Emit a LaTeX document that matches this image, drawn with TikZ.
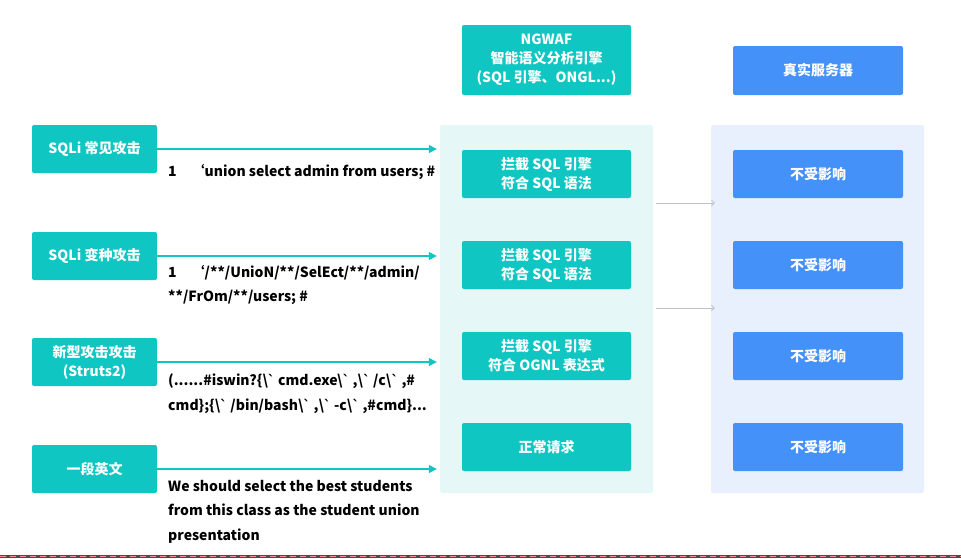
\documentclass[tikz,border=0pt]{standalone}
\usepackage{fontspec}
\setmainfont{Noto Sans CJK SC}
\newfontfamily\narrowfont{DejaVu Sans}
\usetikzlibrary{arrows.meta,positioning}
\definecolor{wafteal}{RGB}{16,198,194}
\definecolor{srvblue}{RGB}{69,145,250}
\definecolor{tealbg}{RGB}{229,248,247}
\definecolor{bluebg}{RGB}{233,240,253}
\newcommand{\bkq}{{\narrowfont\symbol{96}}}
\newcommand{\bksl}{\textbackslash}
\tikzset{>=Latex}

\begin{document}
\begin{tikzpicture}[x=1pt,y=-1pt,
    tealbox/.style={fill=wafteal, rounded corners=2pt, text=white, align=center,
      inner sep=0pt, font=\bfseries\fontsize{14}{19}\selectfont},
    bluebox/.style={tealbox, fill=srvblue, minimum width=170pt, minimum height=48pt},
    attack/.style={tealbox, minimum width=125pt, minimum height=48pt},
    engine/.style={tealbox, minimum width=169pt, minimum height=48pt},
    panel/.style={rounded corners=2pt, minimum width=213pt, minimum height=368pt, inner sep=0pt},
    flow/.style={->, >={Triangle[length=8pt,width=8pt]}, wafteal, line width=1.3pt},
    pass/.style={->, >={Straight Barb[length=3pt,width=6pt]}, black!25, line width=0.7pt},
    payload/.style={anchor=north west, inner sep=0pt, align=left,
      font=\bfseries\fontsize{14}{24.5}\selectfont}]
  \useasboundingbox (0,0) rectangle (961,558);

  % background panels
  \node [panel, fill=tealbg] (wafpanel) at (546.5,309) {};
  \node [panel, fill=bluebg] (srvpanel) at (817.5,309) {};

  % column heads
  \node [tealbox, minimum width=169pt, minimum height=70pt] (waf) at (546.5,60)
    {NGWAF\\智能语义分析引擎\\(SQL 引擎、ONGL...)};
  \node [bluebox, minimum height=49pt] (srv) at (818,70.5) {真实服务器};

  % attacks
  \node [attack] (sqli) at (94.5,149) {SQLi 常见攻击};
  \node [attack] (variant) at (94.5,256) {SQLi 变种攻击};
  \node [attack] (struts) at (94.5,362) {新型攻击攻击\\(Struts2)};
  \node [attack] (english) at (94.5,469) {一段英文};

  % engine results
  \node [engine] (block1) at (546.5,174) {拦截 SQL 引擎\\符合 SQL 语法};
  \node [engine] (block2) at (546.5,265) {拦截 SQL 引擎\\符合 SQL 语法};
  \node [engine] (block3) at (546.5,356) {拦截 SQL 引擎\\符合 OGNL 表达式};
  \node [engine] (normal) at (546.5,447) {正常请求};

  % server
  \node [bluebox] (ok1) at (818,174) {不受影响};
  \node [bluebox] (ok2) at (818,265) {不受影响};
  \node [bluebox] (ok3) at (818,356) {不受影响};
  \node [bluebox] (ok4) at (818,447) {不受影响};

  % requests into the engine
  \foreach \src in {sqli,variant,struts,english}
    \draw [flow] (\src.east) -- ([xshift=-3pt]wafpanel.west |- \src.east);

  % payloads
  \node [payload] (p1) at (168,164) {1\quad ‘union select admin from users; \#};
  \node [payload] (p2) at (168,265) {1\quad ‘/**/UnioN/**/SelEct/**/admin/\\**/FrOm/**/users; \#};
  \node [payload] (p3) at (168,374)
    {(......\#iswin?\{\bksl\bkq{} cmd.exe\bksl\bkq{} ,\bksl\bkq{} /c\bksl\bkq{} ,\#\\
     cmd\};\{\bksl\bkq{} /bin/bash\bksl\bkq{} ,\bksl\bkq{} -c\bksl\bkq{} ,\#cmd\}...};
  \node [payload] (p4) at (168,480)
    {We should select the best students\\from this class as the student union\\presentation};

  % passed traffic
  \coordinate (g1) at (656,203);
  \coordinate (g2) at (656,308);
  \draw [pass] (g1) -- ([xshift=4pt]srvpanel.west |- g1);
  \draw [pass] (g2) -- ([xshift=4pt]srvpanel.west |- g2);

  % bottom edge
  \fill [black!70] (0,555) rectangle (961,558);
  \draw [red!45, line width=1.5pt, dash pattern=on 6pt off 4pt] (0,556.5) -- (961,556.5);
\end{tikzpicture}
\end{document}
